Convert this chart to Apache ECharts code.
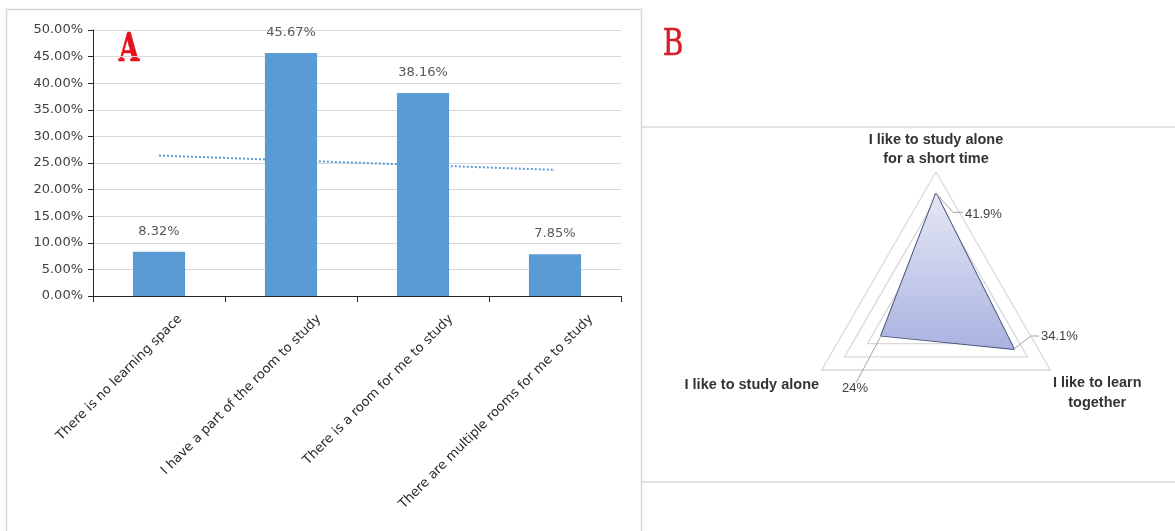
<!DOCTYPE html>
<html>
<head>
<meta charset="utf-8">
<script src="https://cdn.jsdelivr.net/npm/echarts@6/dist/echarts.min.js"></script>
<style>
html,body{margin:0;padding:0;background:#fff;}
#c{width:1175px;height:531px;}
</style>
</head>
<body>
<div id="c"></div>
<script>
// ---- Data ----
const barCategories = [
  'There is no learning space',
  'I have a part of the room to study',
  'There is a room for me to study',
  'There are multiple rooms for me to study'
];
const barValues = [8.32, 45.67, 38.16, 7.85];
// Excel linear trendline, read at first and last category
const trendValues = [26.4, null, null, 23.7];
const yMin = 0, yMax = 50, yInterval = 5;

const radarNames = [
  'I like to study alone\nfor a short time',
  'I like to study alone',
  'I like to learn\ntogether'
];
const radarValues = [41.9, 24, 34.1];
const radarMax = 50;

// ---- Styling (not data): label offsets ----
const catLabelShift = [21, 28, 28, 36];
const nameSpacer = [0, 27, 43];
const leaderStyle = [
  { pts: [[0, 0], [17, 19], [27, 19]], label: [29, 21], align: 'left' },
  { pts: [[0, 0], [-25, 47]], label: [-26, 53], align: 'center' },
  { pts: [[0, 0], [17, -13], [25, -13]], label: [27, -13], align: 'left' }
];

const chart = echarts.init(document.getElementById('c'), null, { renderer: 'canvas' });

const option = {
  animation: false,
  backgroundColor: '#ffffff',
  graphic: [
    { type: 'polyline', silent: true,
      shape: { points: [[6.5, 531], [6.5, 9.5], [641.5, 9.5], [641.5, 531]] },
      style: { stroke: '#d6d6d6', lineWidth: 1.5, fill: null } },
    { type: 'line', silent: true,
      shape: { x1: 641.5, y1: 127, x2: 1175, y2: 127 },
      style: { stroke: '#d9d9d9', lineWidth: 1.5 } },
    { type: 'line', silent: true,
      shape: { x1: 641.5, y1: 482, x2: 1175, y2: 482 },
      style: { stroke: '#d9d9d9', lineWidth: 1.5 } },
    { type: 'text', x: 129, y: 51, scaleX: 0.68, silent: true,
      style: { text: 'A', fontSize: 39, fontWeight: 'bold', fontFamily: 'DejaVu Serif',
               fill: '#e5121b', stroke: '#e5121b', lineWidth: 0.6,
               align: 'center', verticalAlign: 'middle' } },
    { type: 'text', x: 673, y: 45, scaleX: 0.74, silent: true,
      style: { text: 'B', fontSize: 38, fontFamily: 'DejaVu Serif',
               fill: '#d41f28', stroke: '#d41f28', lineWidth: 0.6,
               align: 'center', verticalAlign: 'middle' } }
  ],
  grid: {
    left: 93, right: 554, top: 30, bottom: 235,
    containLabel: false, outerBoundsMode: 'none'
  },
  xAxis: {
    type: 'category',
    data: barCategories,
    axisLine: { lineStyle: { color: '#262626', width: 1 } },
    axisTick: { show: true, interval: 0, length: 6, lineStyle: { color: '#262626' } },
    axisLabel: { show: false, interval: 0 },
    splitLine: { show: false }
  },
  yAxis: {
    type: 'value',
    min: yMin, max: yMax, interval: yInterval,
    axisLine: { show: true, lineStyle: { color: '#262626', width: 1 } },
    axisTick: { show: true, length: 5, lineStyle: { color: '#262626' } },
    axisLabel: {
      margin: 10, fontFamily: 'DejaVu Sans', fontSize: 13, color: '#404040',
      formatter: v => v.toFixed(2) + '%'
    },
    splitLine: { lineStyle: { color: '#d9d9d9', width: 1 } }
  },
  radar: {
    center: [936, 304],
    radius: 132,
    startAngle: 90,
    shape: 'polygon',
    splitNumber: 5,
    nameGap: 3,
    indicator: radarNames.map(n => ({ name: n, min: 0, max: radarMax })),
    axisName: {
      formatter: function (n) {
        const sp = nameSpacer[radarNames.indexOf(n)] || 0;
        const body = n.split('\n').map(l => '{n|' + l + '}').join('\n');
        return sp ? '{s' + sp + '| }\n' + body : body;
      },
      rich: {
        n: { align: 'center', fontFamily: 'Liberation Sans', fontWeight: 'bold',
             fontSize: 14.5, color: '#333333', lineHeight: 19.5 },
        s27: { fontSize: 2, lineHeight: 27 },
        s43: { fontSize: 2, lineHeight: 43 }
      }
    },
    axisLine: { show: false },
    axisTick: { show: false },
    axisLabel: { show: false },
    splitArea: { show: false },
    splitLine: { lineStyle: { color: '#d9d9d9', width: 1.3 } }
  },
  polar: { center: [936, 304], radius: 132 },
  angleAxis: {
    type: 'category', data: radarNames, startAngle: 90, clockwise: false,
    boundaryGap: false, show: false
  },
  radiusAxis: { type: 'value', min: 0, max: radarMax, show: false },
  series: [
    {
      type: 'line',
      data: trendValues,
      connectNulls: true,
      symbol: 'none',
      z: 1,
      silent: true,
      lineStyle: { color: '#5b9bd5', width: 2, type: [2, 2] }
    },
    {
      type: 'bar',
      data: barValues,
      barWidth: '39.5%',
      z: 3,
      itemStyle: { color: '#5b9bd5' },
      label: {
        show: true, position: 'top', distance: 14,
        fontFamily: 'DejaVu Sans', fontSize: 13, color: '#595959',
        formatter: p => p.value.toFixed(2) + '%'
      }
    },
    {
      // rotated category labels, anchored at each category through the x scale
      type: 'custom',
      coordinateSystem: 'cartesian2d',
      clip: false,
      silent: true,
      data: barCategories.map((c, i) => [i, 0]),
      renderItem: function (params, api) {
        const p = api.coord([api.value(0), 0]);
        const i = params.dataIndex;
        return {
          type: 'text',
          x: p[0] + catLabelShift[i],
          y: p[1] + 21,
          rotation: Math.PI / 4,
          style: {
            text: barCategories[i], fill: '#2b2b2b',
            fontFamily: 'DejaVu Sans', fontSize: 13,
            align: 'right', verticalAlign: 'middle'
          }
        };
      }
    },
    {
      type: 'radar',
      symbol: 'none',
      data: [{ value: radarValues }],
      lineStyle: { color: '#434f78', width: 1.8 },
      areaStyle: {
        opacity: 1,
        color: new echarts.graphic.LinearGradient(0, 0, 0, 1, [
          { offset: 0, color: '#e6e8f6' },
          { offset: 1, color: '#a9b3e0' }
        ])
      }
    },
    {
      type: 'custom',
      coordinateSystem: 'polar',
      data: radarValues.map((v, i) => [v, i]),
      silent: true,
      z: 5,
      renderItem: function (params, api) {
        const p = api.coord([api.value(0), api.value(1)]);
        const s = leaderStyle[params.dataIndex];
        return {
          type: 'group',
          children: [
            { type: 'polyline',
              shape: { points: s.pts.map(d => [p[0] + d[0], p[1] + d[1]]) },
              style: { stroke: '#a6a6a6', lineWidth: 1, fill: null } },
            { type: 'text',
              x: p[0] + s.label[0], y: p[1] + s.label[1],
              style: { text: api.value(0) + '%', fill: '#404040',
                       fontFamily: 'Liberation Sans', fontSize: 13,
                       align: s.align, verticalAlign: 'middle' } }
          ]
        };
      }
    }
  ]
};
chart.setOption(option);
</script>
</body>
</html>
